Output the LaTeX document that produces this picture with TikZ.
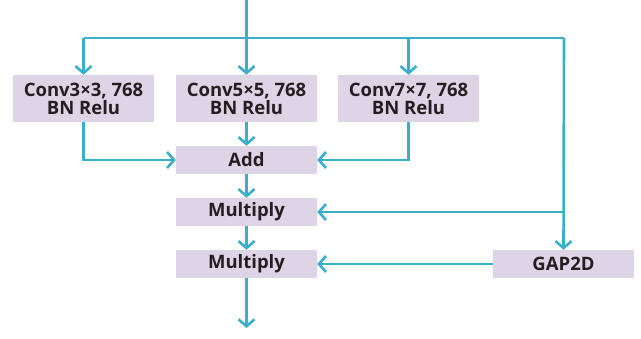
\documentclass[tikz,border=0pt]{standalone}
\usepackage{fontspec}
\setmainfont{Open Sans}
\usetikzlibrary{arrows.meta}
\definecolor{linec}{HTML}{3AAFC9}
\definecolor{boxc}{HTML}{DDD5E6}
\definecolor{txtc}{HTML}{231F20}
\begin{document}
\begin{tikzpicture}[x=1pt,y=-1pt,
  blk/.style={fill=boxc, draw=none, inner sep=0pt, minimum width=141pt, align=center, text=txtc, font=\bfseries\fontsize{18.5}{21}\selectfont},
  tall/.style={blk, minimum height=47pt},
  short/.style={blk, minimum height=28pt},
  conn/.style={draw=linec, line width=2.6pt, -{Straight Barb[length=7pt,width=16pt,line width=2.6pt]}},
  plain/.style={draw=linec, line width=2.6pt}]
\useasboundingbox (0,0) rectangle (641,338);
\node[tall] (c3) at (83.5,98.5) {Conv3×3, 768\\[-3pt]BN Relu};
\node[tall] (c5) at (246.5,98.5) {Conv5×5, 768\\[-3pt]BN Relu};
\node[tall] (c7) at (408.5,98.5) {Conv7×7, 768\\[-3pt]BN Relu};
\node[short] (add) at (246.5,160) {Add};
\node[short] (m1) at (246.5,212) {Multiply};
\node[short] (m2) at (246.5,264) {Multiply};
\node[short] (gap) at (563.5,264) {GAP2D};
\coordinate (top) at (246.5,0);
\coordinate (hl) at (83.5,38);
\coordinate (hr) at (564,38);
\coordinate (out) at (246.5,328);
\coordinate (j) at (564,212);
% input
\draw[conn] (top) -- (c5.north);
\draw[plain] (hl) -- (hr);
\draw[conn] (hl) -- (c3.north);
\draw[conn] (c7.north |- hl) -- (c7.north);
\draw[conn] (hr) -- (gap.north);
\draw[conn] (j) -- (m1.east);
% to add
\draw[conn] (c3.south) |- (add.west);
\draw[conn] (c7.south) |- (add.east);
\draw[conn] (c5.south) -- (add.north);
\draw[conn] (add.south) -- (m1.north);
\draw[conn] (m1.south) -- (m2.north);
\draw[conn] (gap.west) -- (m2.east);
\draw[conn] (m2.south) -- (out);
\end{tikzpicture}
\end{document}
